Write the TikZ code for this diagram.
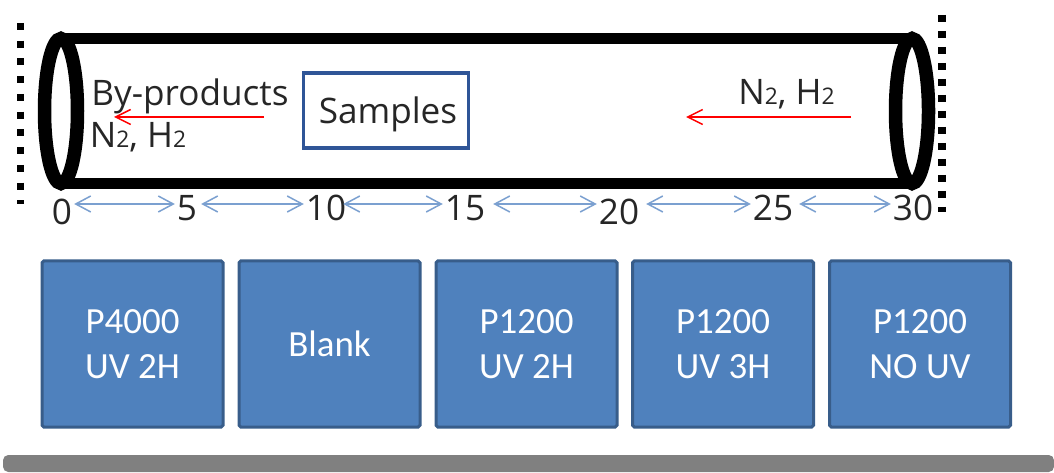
\documentclass[tikz,border=0pt]{standalone}
\usepackage{fontspec}
\setmainfont{Open Sans}
\newfontfamily\boxfont{Carlito}
\usetikzlibrary{shapes.geometric, arrows.meta, positioning, calc}

\definecolor{slotblue}{HTML}{4F81BD}
\definecolor{slotedge}{HTML}{385D8A}
\definecolor{sampleedge}{HTML}{2F5597}
\definecolor{spanblue}{HTML}{7BA0D0}
\definecolor{labelgrey}{HTML}{262626}

\newcommand{\gassub}{{\fontsize{13}{13}\selectfont 2}}

\begin{document}
\begin{tikzpicture}[
    tubeend/.style={ellipse, draw=black, line width=0.27cm, minimum width=0.66cm, minimum height=2.9cm, inner sep=0pt, outer sep=0pt},
    tubewall/.style={black, line width=0.22cm},
    sample/.style={rectangle, draw=sampleedge, line width=0.07cm, minimum width=3.3cm, minimum height=1.5cm, text height=0.68cm, text depth=0.14cm, align=center, text=labelgrey, font=\fontsize{20}{24}\selectfont},
    slot/.style={rectangle, rounded corners=1pt, draw=slotedge, fill=slotblue, line width=0.06cm, minimum width=3.62cm, minimum height=3.32cm, align=center, text=white, font=\boxfont\fontsize{21}{25.5}\selectfont},
    tick/.style={inner sep=1pt, text=labelgrey, font=\fontsize{20}{24}\selectfont},
    gas/.style={inner sep=0pt, text=labelgrey, font=\fontsize{20}{24}\selectfont},
    flow/.style={-{Straight Barb[length=3mm, width=3mm]}, red, line width=0.03cm},
    span/.style={{Straight Barb[length=3mm, width=3.2mm]}-{Straight Barb[length=3mm, width=3.2mm]}, spanblue, line width=0.03cm},
    dots/.style={black, line width=0.15cm}
]
\useasboundingbox (0,0) rectangle (21.08,9.44);

% tube
\node[tubeend] (left) at (1.22,7.22) {};
\node[tubeend] (right) at (18.24,7.22) {};
\draw[tubewall] (left.north) -- (right.north);
\draw[tubewall] (left.south) -- (right.south);

% end stops
\coordinate (leftTop) at (0.41,8.98);
\coordinate (leftEnd) at (0.41,5.36);
\coordinate (rightTop) at (18.84,9.14);
\coordinate (rightEnd) at (18.84,5.2);
\draw[dots, dash pattern=on 0.14cm off 0.215cm] (leftTop) -- (leftEnd);
\draw[dots, dash pattern=on 0.14cm off 0.18cm] (rightTop) -- (rightEnd);

\node[sample] (samples) at (7.72,7.23) {\hspace{0.08cm}Samples};

\node[gas] (products) at (3.8,7.52) {By-products};
\node[gas] (leftGas) at (2.76,6.7) {N\gassub, H\gassub};
\node[gas] (rightGas) at (15.73,7.56) {N\gassub, H\gassub};

\coordinate (leftTail) at (5.28,7.1);
\coordinate (leftHead) at (2.28,7.1);
\coordinate (rightTail) at (17.02,7.1);
\coordinate (rightHead) at (13.72,7.1);
\draw[flow] (leftTail) -- (leftHead);
\draw[flow] (rightTail) -- (rightHead);

% length scale
\node[tick] (n0) at (1.24,5.2) {0};
\node[tick] (n5) at (3.74,5.28) {5};
\node[tick] (n10) at (6.52,5.28) {10};
\node[tick] (n15) at (9.3,5.28) {15};
\node[tick] (n20) at (12.38,5.2) {20};
\node[tick] (n25) at (15.46,5.28) {25};
\node[tick] (n30) at (18.26,5.28) {30};
\coordinate (scale) at (0,5.36);
\draw[span] (n0.east |- scale) -- (n5.west |- scale);
\draw[span] (n5.east |- scale) ++(0.04,0) -- (n10.west |- scale);
\draw[span] (n10.east |- scale) ++(-0.1,0) -- (n15.west |- scale);
\draw[span] (n15.east |- scale) ++(0.12,0) -- (n20.west |- scale);
\draw[span] (n20.east |- scale) ++(0.1,0) -- (n25.west |- scale);
\draw[span] (n25.east |- scale) ++(0.08,0) -- (n30.west |- scale);

% sample holder
\node[slot] (p4000) at (2.65,2.56) {P4000\\UV 2H};
\node[slot] (blank) at (6.59,2.56) {Blank};
\node[slot] (uv2) at (10.53,2.56) {P1200\\UV 2H};
\node[slot] (uv3) at (14.46,2.56) {P1200\\UV 3H};
\node[slot] (nouv) at (18.4,2.56) {P1200\\NO UV};

\node[rectangle, rounded corners=3pt, fill=black!50, minimum width=21.02cm, minimum height=0.34cm, inner sep=0pt] (bar) at (10.57,0.17) {};
\end{tikzpicture}
\end{document}
